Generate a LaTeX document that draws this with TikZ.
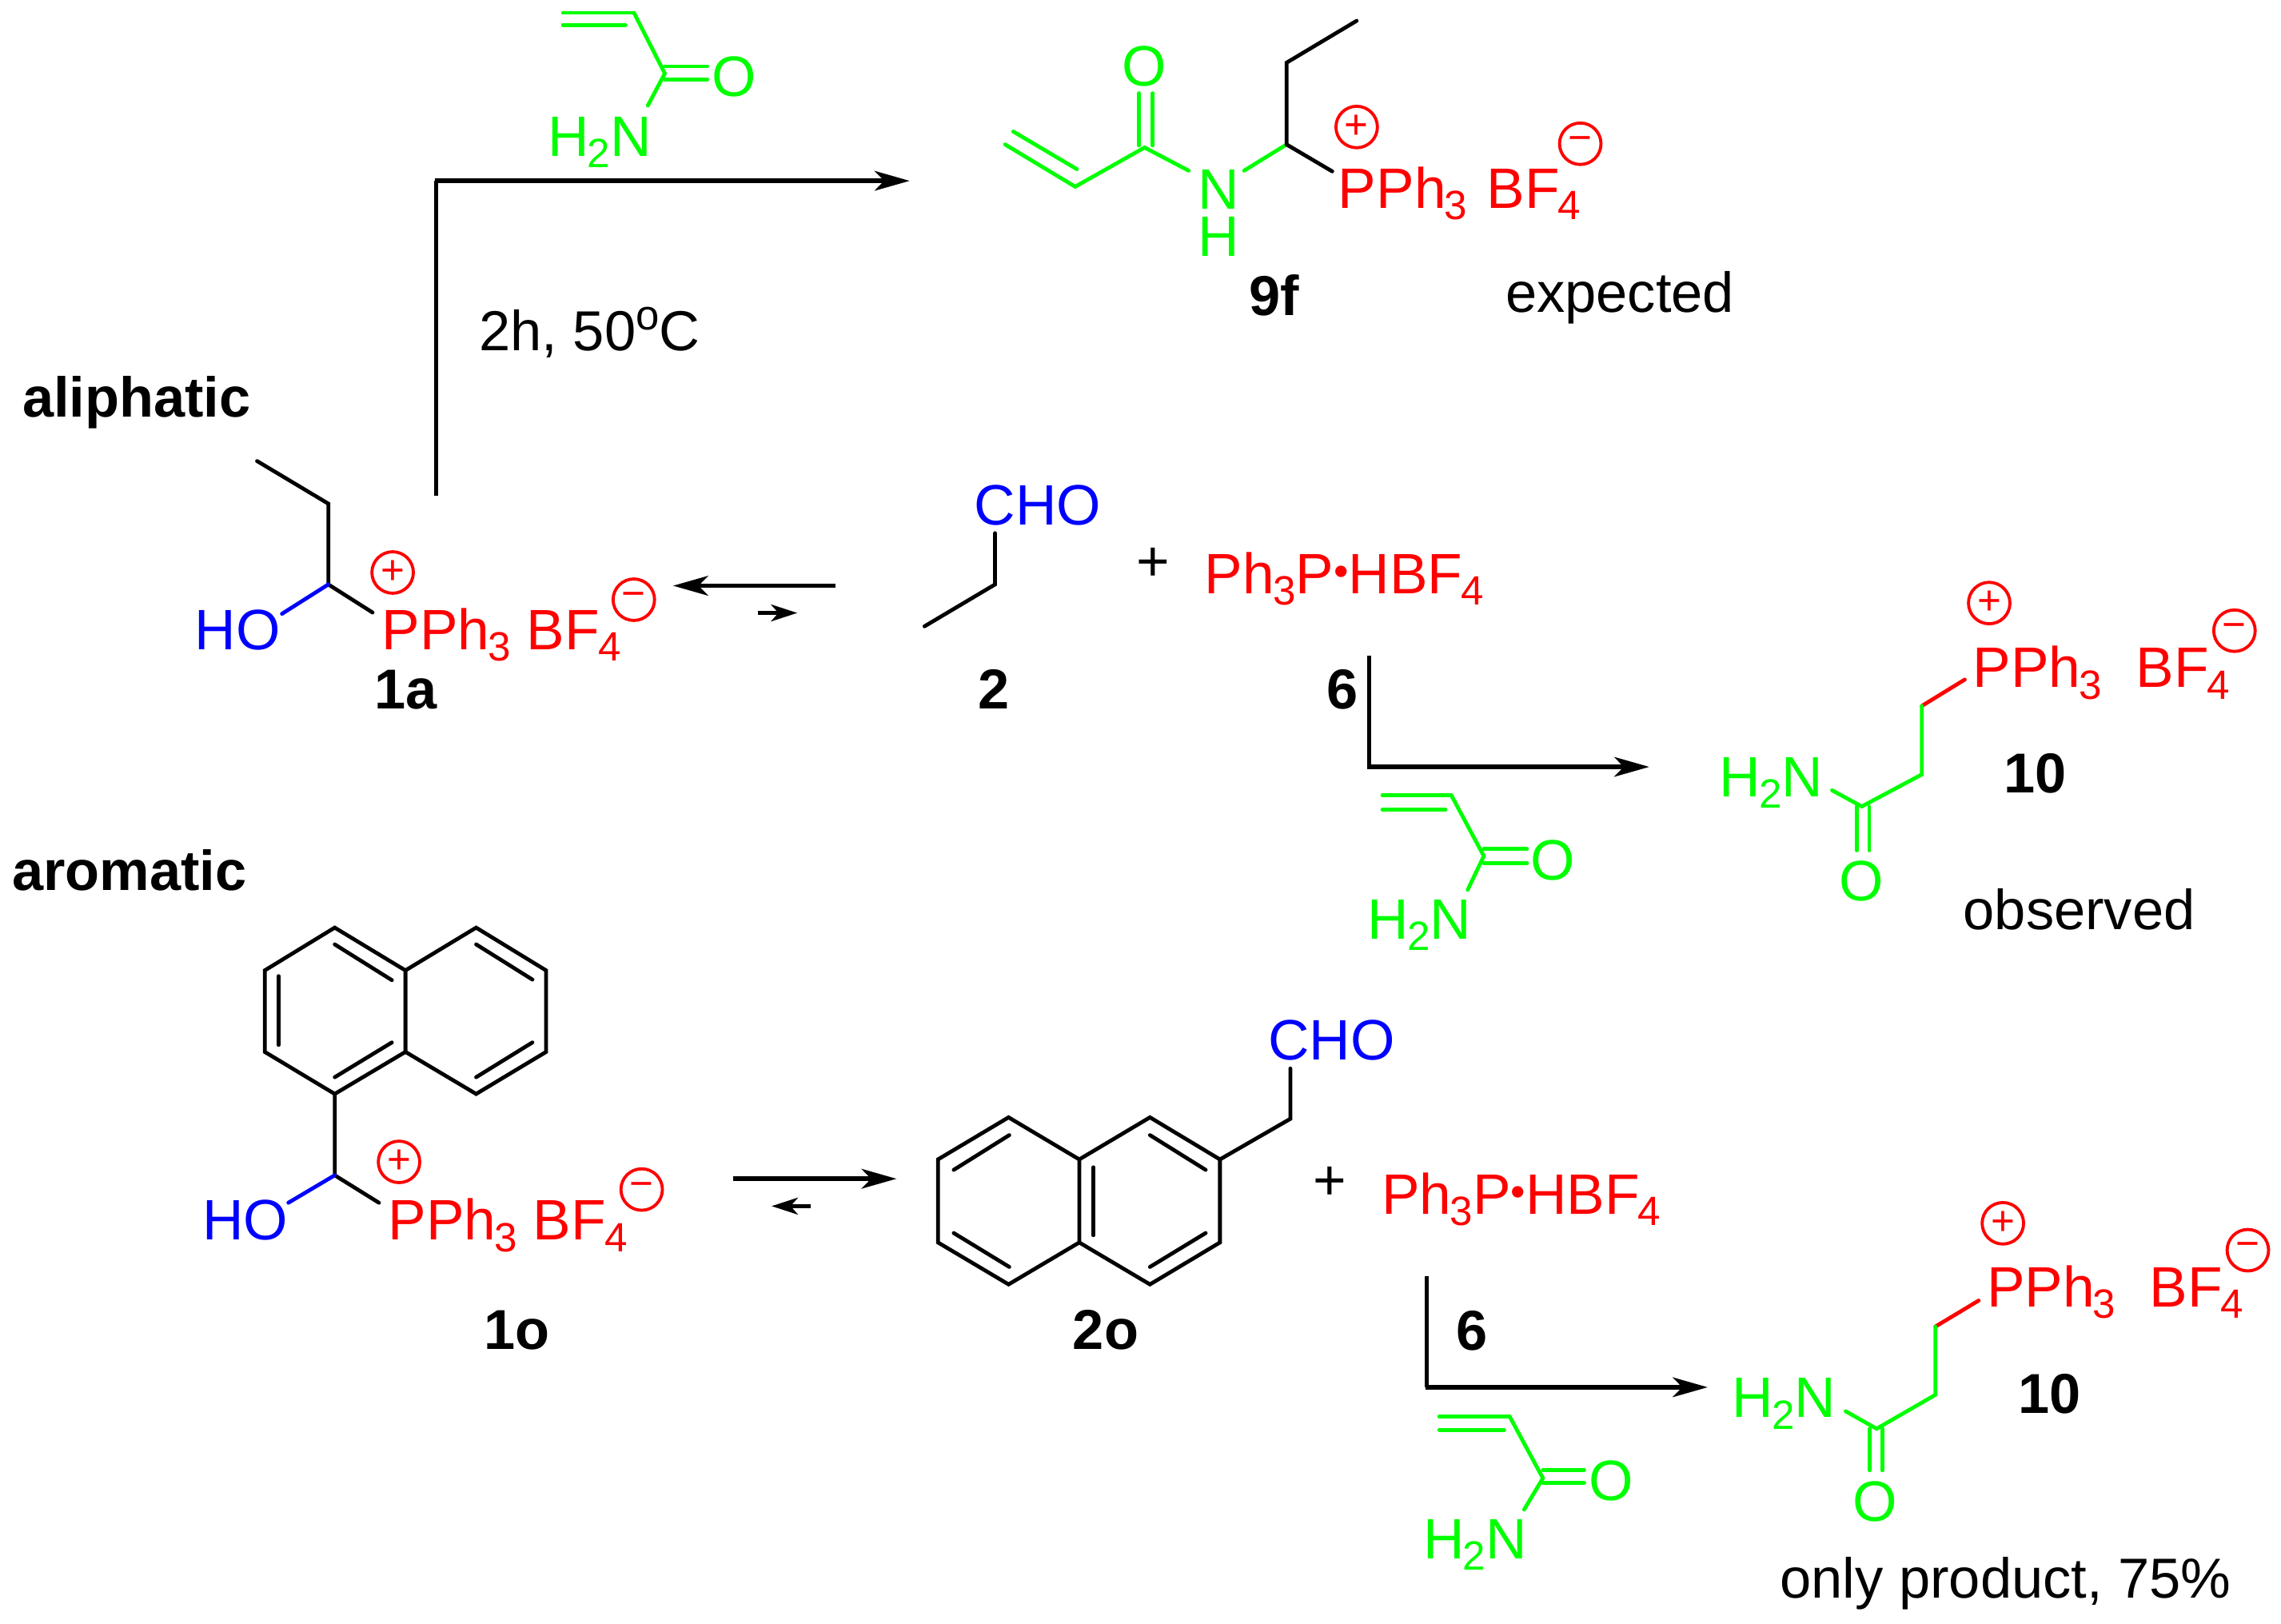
\documentclass[tikz,border=0pt]{standalone}
\usepackage{fontspec}
\setmainfont{Liberation Sans}
\usetikzlibrary{arrows.meta}
\definecolor{gr}{HTML}{00FF00}
\definecolor{rd}{HTML}{FF0000}
\definecolor{bl}{HTML}{0000FF}
\newcommand{\sbs}[1]{\kern-0.6pt\raisebox{-0.2em}{\fontsize{16pt}{18pt}\selectfont #1}}
\newcommand{\sps}[1]{\raisebox{0.37em}{\fontsize{16.5pt}{18pt}\selectfont #1}}
\newcommand{\dotb}{\raisebox{3.2pt}{\fontsize{16.5pt}{18pt}\selectfont •}}
\tikzset{
  bond/.style={line width=1.5pt,line cap=round,line join=miter,black},
  gbond/.style={bond,draw=gr},
  rbond/.style={bond,draw=rd},
  bbond/.style={bond,draw=bl},
  base/.style={inner sep=0pt,outer sep=0pt,anchor=base west,font=\fontsize{22.3pt}{24pt}\selectfont},
  txt/.style={base,xshift=-0.3mm,font=\fontsize{22.05pt}{24pt}\selectfont},
  lab/.style={base,font=\fontsize{22pt}{24pt}\selectfont\bfseries},
  gtxt/.style={base,xshift=-0.5mm,text=gr},
  rtxt/.style={base,xshift=-0.5mm,text=rd},
  btxt/.style={base,xshift=-0.5mm,text=bl},
  oxy/.style={inner sep=0pt,anchor=center,yshift=-0.2mm,text=gr,font=\fontsize{22.3pt}{24pt}\selectfont},
  plusm/.style={inner sep=0pt,anchor=center,yshift=-0.4mm,font=\fontsize{22.3pt}{24pt}\selectfont},
  charge/.style={circle,draw=rd,text=rd,line width=1.2pt,inner sep=0pt,minimum size=5.7mm,font=\fontsize{16pt}{16pt}\selectfont},
  bigarrow/.style={line width=1.7pt,-{Stealth[length=4.8mm,width=2.7mm,inset=1.3mm]}},
  smallarrow/.style={line width=1.7pt,-{Stealth[length=3.6mm,width=2.3mm,inset=1mm]}},
  riser/.style={line width=1.5pt},
}
\begin{document}
\begin{tikzpicture}[x=0.2mm,y=-0.2mm]
\path[use as bounding box] (0,0) rectangle (1568,1115.7);
% ---- top reagent + arrow
\draw[gbond] (435.8,8.8)--(387,8.8);
\draw[gbond] (430,17.2)--(387,17.2);
\draw[gbond] (435.8,8.8)--(457,50.5)--(445.3,72.6);
\draw[gbond] (457,45.6)--(486.2,45.6);
\draw[gbond] (457,54.5)--(486.2,54.5);
\node[oxy] (o1) at (504.7,51.5) {O};
\node[gtxt] (n1) at (379.1,107.3) {H\sbs{2}N};
\coordinate (a1s) at (300,340.7);
\coordinate (a1c) at (300,124.3);
\coordinate (a1e) at (625.3,124.3);
\draw[riser] (a1s)--(a1c);
\draw[bigarrow] ([xshift=-0.7pt]a1c)--(a1e);
\node[txt] (cond) at (330.9,240.8) {2h, 50\sps{o}C};
% ---- 9f
\draw[gbond] (690.9,99.3)--(739.1,128.3)--(786.8,101.4)--(817.1,117.3);
\draw[gbond] (696.5,90.4)--(740.3,116.3);
\draw[gbond] (782.9,100)--(782.9,64.1);
\draw[gbond] (792.4,100)--(792.4,64.1);
\node[oxy] (o2) at (786.8,44.8) {O};
\node[gtxt] (n2) at (826,143.6) {N};
\node[gtxt] (h2) at (826,176) {H};
\draw[gbond] (855.2,117.3)--(884.4,99.3);
\draw[bond] (932.6,14.3)--(884.4,43.1)--(884.4,99.3)--(915.8,117.8);
\node[rtxt] (p2) at (922.5,143) {PPh\sbs{3}};
\node[rtxt] (bf2) at (1024.6,143) {BF\sbs{4}};
\node[charge] (cp2) at (932.6,87.3) {+};
\node[charge] (cm2) at (1086.3,98.8) {−};
\node[lab] (l9f) at (858.7,216.6) {9f};
\node[txt] (exp) at (1036.4,214.5) {expected};
% ---- labels
\node[lab] (ali) at (15.5,286.7) {aliphatic};
\node[lab] (aro) at (8.5,611.8) {aromatic};
% ---- 1a
\draw[bond] (176.7,316.9)--(225.7,346.2)--(225.7,401.7)--(256.1,421);
\draw[bbond] (225.7,401.7)--(193.8,421.9);
\node[btxt] (ho1) at (136.4,446.4) {HO};
\node[rtxt] (p1) at (265,446.4) {PPh\sbs{3}};
\node[rtxt] (bf1) at (364.6,446.4) {BF\sbs{4}};
\node[charge] (cp1) at (269.9,393.5) {+};
\node[charge] (cm1) at (435.7,412.2) {−};
\node[lab] (l1a) at (257.5,487.3) {1a};
\coordinate (b1s) at (574.1,402.6);
\coordinate (b1e) at (462.7,402.6);
\coordinate (b2s) at (521.1,421.3);
\coordinate (b2e) at (548.1,421.3);
\draw[bigarrow] (b1s)--(b1e);
\draw[smallarrow] (b2s)--(b2e);
% ---- 2
\node[btxt] (cho1) at (672.3,360.9) {CHO};
\draw[bond] (684,366.4)--(684,401.7)--(635.5,430.5);
\node[lab] (l2) at (672.2,487.3) {2};
\node[plusm] (pl1) at (792.9,385.9) {+};
\node[rtxt] (ph1) at (830.6,408) {Ph\sbs{3}P\dotb HBF\sbs{4}};
% ---- arrow 6 upper
\node[lab] (l6a) at (912.1,487.3) {6};
\coordinate (c1s) at (941.1,450.4);
\coordinate (c1c) at (941.1,527.1);
\coordinate (c1e) at (1133.7,527.1);
\draw[riser] (c1s)--(c1c);
\draw[bigarrow] ([xshift=-0.7pt]c1c)--(c1e);
\draw[gbond] (997.7,546.7)--(950.3,546.7);
\draw[gbond] (993.6,556.6)--(950.3,556.6);
\draw[gbond] (997.7,546.7)--(1020,588.4)--(1008.9,611.6);
\draw[gbond] (1020,583.6)--(1049.6,583.6);
\draw[gbond] (1020,593.2)--(1049.6,593.2);
\node[oxy] (o3) at (1067.4,590.6) {O};
\node[gtxt] (n3) at (942.7,645.3) {H\sbs{2}N};
% ---- 10 upper
\draw[rbond] (1350.6,467.1)--(1321.1,485.2);
\draw[gbond] (1321.1,485.2)--(1321.1,532.3)--(1279.8,554.3)--(1259.4,543.2);
\draw[gbond] (1276.3,554.3)--(1276.3,584.5);
\draw[gbond] (1284.9,554.3)--(1284.9,584.5);
\node[oxy] (o4) at (1279.8,604.7) {O};
\node[gtxt] (n4) at (1184.6,547.5) {H\sbs{2}N};
\node[rtxt] (p4) at (1358.7,472.6) {PPh\sbs{3}};
\node[rtxt] (bf4) at (1470.8,472.6) {BF\sbs{4}};
\node[charge] (cp4) at (1367.4,414.5) {+};
\node[charge] (cm4) at (1536,433.5) {−};
\node[lab] (l10a) at (1377.6,544.9) {10};
\node[txt] (obs) at (1351.1,638.8) {observed};
% ---- 1o
\draw[bond] (230.1,637.6)--(278.7,667)--(278.7,723)--(230.1,751.9)--(182,723)--(182,667)--cycle;
\draw[bond] (278.7,667)--(327.3,637.6)--(375.4,667)--(375.4,723)--(327.3,751.9)--(278.7,723);
\draw[bond] (230.1,649.1)--(269.4,673.7);
\draw[bond] (191.4,670.9)--(191.4,718.2);
\draw[bond] (230.1,740.4)--(269.4,716.5);
\draw[bond] (327.3,649.1)--(366,673.3);
\draw[bond] (366,716.5)--(327.3,740.4);
\draw[bond] (230.1,751.9)--(230.1,807.8)--(260.5,826.7);
\draw[bbond] (230.1,807.8)--(198.2,826.7);
\node[btxt] (ho2) at (141.8,852.3) {HO};
\node[rtxt] (p5) at (269.4,852.3) {PPh\sbs{3}};
\node[rtxt] (bf5) at (369,852.3) {BF\sbs{4}};
\node[charge] (cp5) at (274.3,798.6) {+};
\node[charge] (cm5) at (441.1,817.6) {−};
\node[lab] (l1o) at (332.6,927.7) {1o};
\coordinate (d1s) at (503.9,810.2);
\coordinate (d1e) at (616.3,810.2);
\coordinate (d2s) at (557.4,829);
\coordinate (d2e) at (530.4,829);
\draw[bigarrow] (d1s)--(d1e);
\draw[smallarrow] (d2s)--(d2e);
% ---- 2o
\draw[bond] (693.3,768)--(741.9,796.9)--(741.9,854)--(693.3,882.8)--(644.8,854)--(644.8,796.9)--cycle;
\draw[bond] (741.9,796.9)--(790.5,768)--(838.6,796.9)--(838.6,854)--(790.5,882.8)--(741.9,854);
\draw[bond] (693.8,780.2)--(655.6,804.1);
\draw[bond] (655.6,847.5)--(693.8,870.8);
\draw[bond] (751.7,802.3)--(751.7,849);
\draw[bond] (790.5,780.2)--(828.8,804.1);
\draw[bond] (828.8,847.5)--(790.5,870.8);
\draw[bond] (838.6,796.9)--(887,769)--(887,734.4);
\node[btxt] (cho2) at (874.2,728.7) {CHO};
\node[lab] (l2o) at (737.5,927.7) {2o};
\node[plusm] (pl2) at (914,811.6) {+};
\node[rtxt] (ph2) at (952.4,834.6) {Ph\sbs{3}P\dotb HBF\sbs{4}};
% ---- arrow 6 lower
\node[lab] (l6b) at (1001.2,928) {6};
\coordinate (e1s) at (980.9,876.9);
\coordinate (e1c) at (980.9,953.5);
\coordinate (e1e) at (1173.9,953.5);
\draw[riser] (e1s)--(e1c);
\draw[bigarrow] ([xshift=-0.7pt]e1c)--(e1e);
\draw[gbond] (1037.8,973.7)--(989.4,973.7);
\draw[gbond] (1034,982.8)--(989.4,982.8);
\draw[gbond] (1037.8,973.7)--(1060.6,1016)--(1047.7,1037.6);
\draw[gbond] (1060.6,1010.3)--(1089,1010.3);
\draw[gbond] (1060.6,1019.1)--(1089,1019.1);
\node[oxy] (o5) at (1107.5,1016.9) {O};
\node[gtxt] (n5) at (980.9,1071.4) {H\sbs{2}N};
% ---- 10 lower
\draw[rbond] (1360.2,893.9)--(1330.4,911.8);
\draw[gbond] (1330.4,911.8)--(1330.4,958.7)--(1290,982)--(1268.7,970);
\draw[gbond] (1285.3,982)--(1285.3,1010.6);
\draw[gbond] (1293.9,982)--(1293.9,1010.6);
\node[oxy] (o6) at (1289.1,1031.1) {O};
\node[gtxt] (n6) at (1193.3,974.3) {H\sbs{2}N};
\node[rtxt] (p6) at (1368.3,898.2) {PPh\sbs{3}};
\node[rtxt] (bf6) at (1480.2,898.2) {BF\sbs{4}};
\node[charge] (cp6) at (1376.8,840.8) {+};
\node[charge] (cm6) at (1545.2,859.3) {−};
\node[lab] (l10b) at (1387.2,971.4) {10};
\node[txt] (only) at (1225.1,1098.3) {only product, 75\%};
\end{tikzpicture}
\end{document}
